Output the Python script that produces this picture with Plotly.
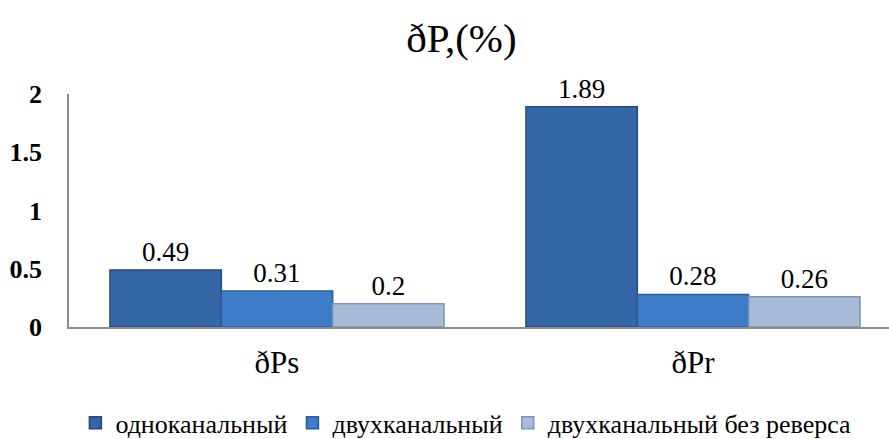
import plotly.graph_objects as go

categories = ["ðPs", "ðPr"]
series_names = ["одноканальный", "двухканальный", "двухканальный без реверса"]
single_channel = [0.49, 1.89]
dual_channel = [0.31, 0.28]
dual_no_reverse = [0.2, 0.26]
y_ticks = [0, 0.5, 1, 1.5, 2]
y_tick_labels = ["0", "0.5", "1", "1.5", "2"]

serif = "Liberation Serif"
fills = ["#3466A8", "#3D7CC9", "#A8BBD9"]
edges = ["#244A7C", "#2B5C9A", "#7F93B3"]

fig = go.Figure()
for name, vals, fc, ec in zip(series_names,
                              [single_channel, dual_channel, dual_no_reverse],
                              fills, edges):
    fig.add_trace(go.Bar(
        x=categories, y=vals, name=name,
        marker=dict(color=fc, line=dict(color=ec, width=1.5)),
        text=[f"{v:g}" for v in vals], textposition="outside",
        textfont=dict(family=serif, size=27, color="black"),
        cliponaxis=False,
    ))

fig.update_layout(
    width=889, height=439,
    margin=dict(l=69, r=0, t=94, b=112, autoexpand=False),
    paper_bgcolor="white", plot_bgcolor="white",
    barmode="group", bargap=0.197, bargroupgap=0,
    title=dict(text="ðP,(%)", x=0.519, xanchor="center", y=0.915, yanchor="middle",
               font=dict(family=serif, size=41, color="black")),
    font=dict(family=serif, color="black"),
    showlegend=True,
    legend=dict(orientation="h", x=0.484, xanchor="center", y=-0.31, yanchor="top",
                font=dict(family=serif, size=26, color="black"),
                itemwidth=30, tracegroupgap=0),
    xaxis=dict(range=[-0.5, 1.4712], showline=True, linecolor="#8C8C8C", linewidth=1.5,
               ticks="", tickfont=dict(family=serif, size=31, color="black"),
               ticklabelstandoff=7,
               showgrid=False, zeroline=False),
    yaxis=dict(range=[0, 2], tickvals=y_ticks, ticktext=[f"<b>{t}</b>" for t in y_tick_labels],
               showline=True, linecolor="#8C8C8C", linewidth=1.5, ticks="",
               tickfont=dict(family=serif, size=26, color="black"),
               ticklabelstandoff=20,
               showgrid=False, zeroline=False),
)

fig.write_html("out.html")
